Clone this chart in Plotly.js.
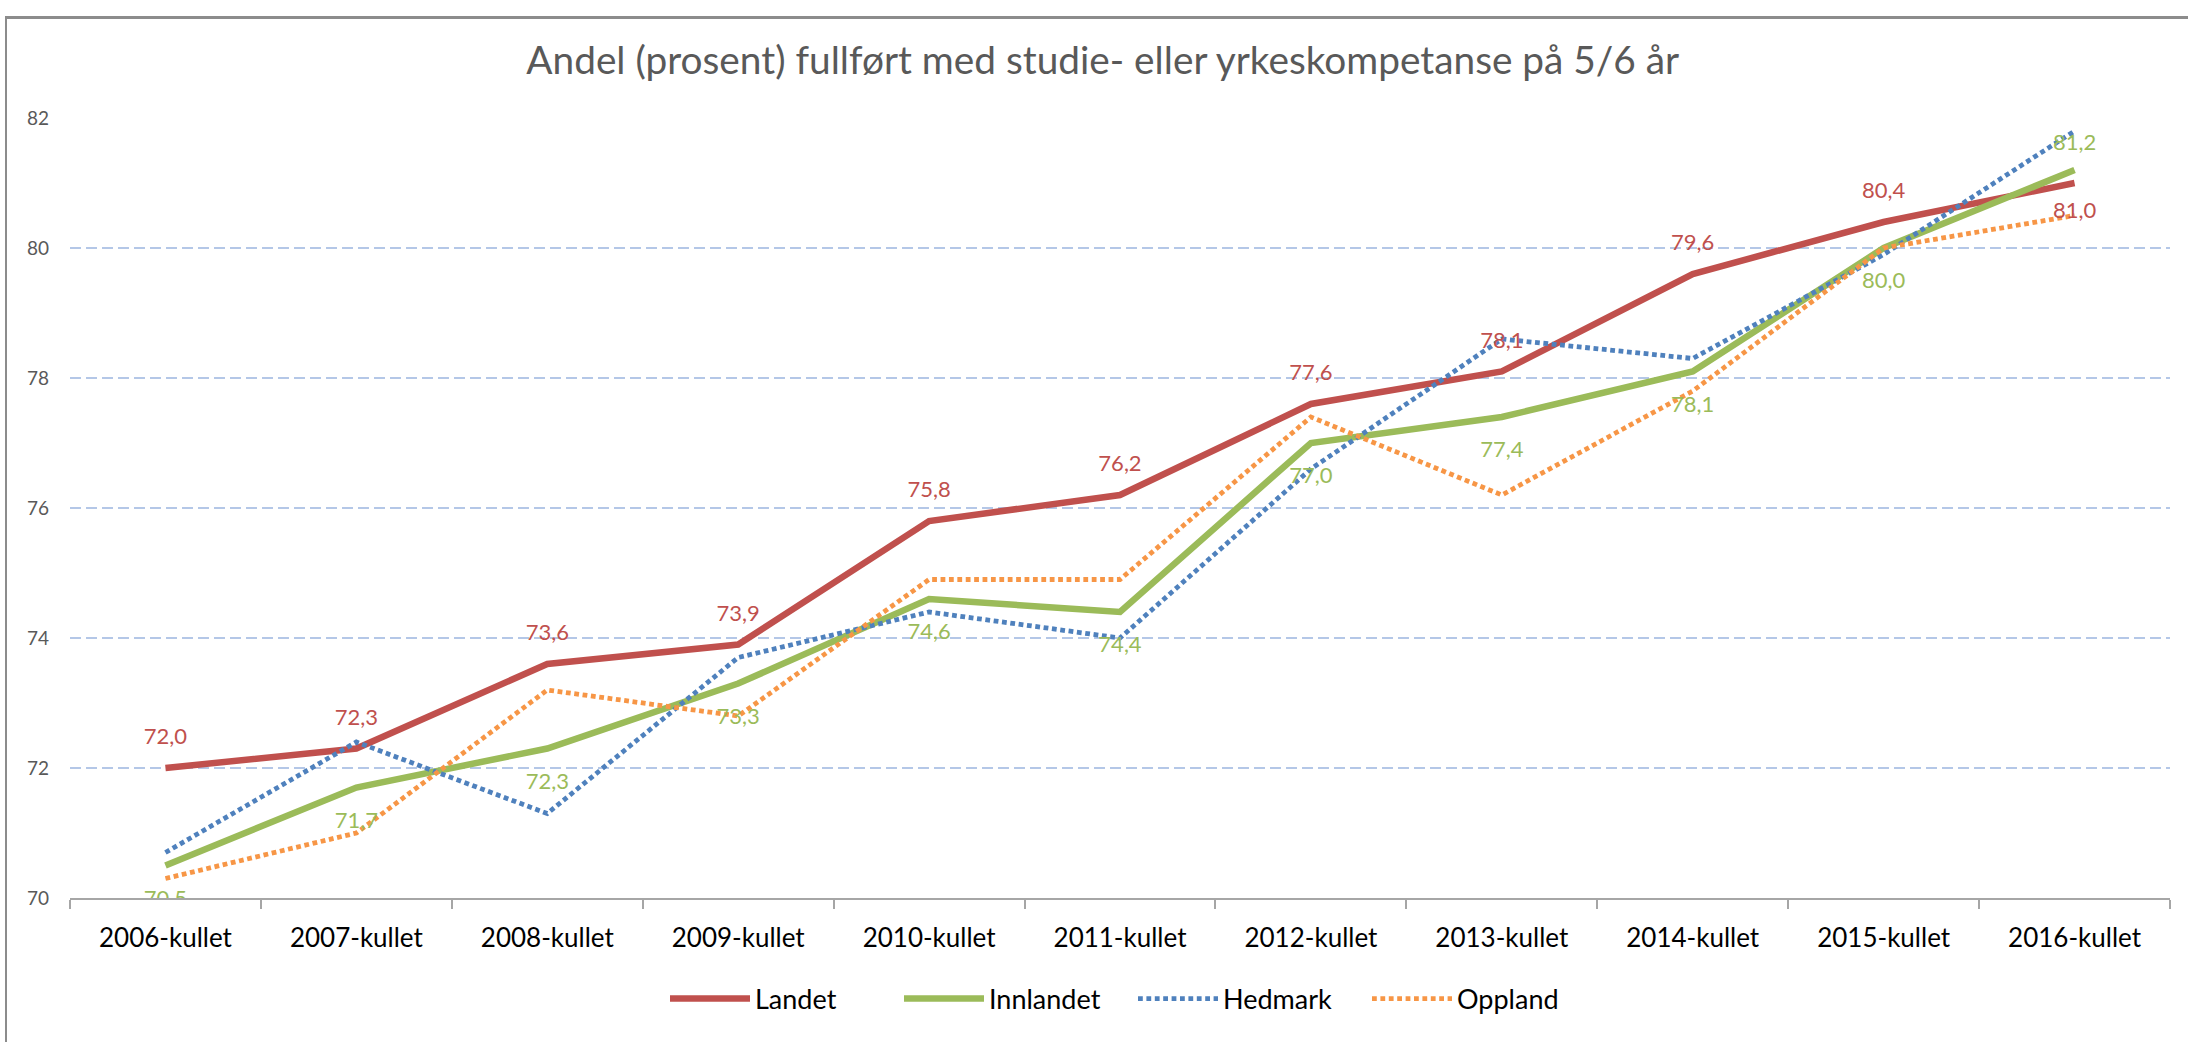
<!DOCTYPE html>
<html>
<head>
<meta charset="utf-8">
<script src="https://cdn.plot.ly/plotly-3.0.1.min.js"></script>
<style>
  html, body { margin: 0; padding: 0; background: #ffffff; }
  #wrap { position: relative; width: 2188px; height: 1042px; overflow: hidden; }
  #chart { position: absolute; left: 0; top: 0; width: 2188px; height: 1042px; }
  #frame { position: absolute; left: 5px; top: 16px; width: 2200px; height: 1100px;
           border-left: 2px solid #8c8c8c; border-top: 3px solid #8c8c8c; pointer-events: none; }
</style>
</head>
<body>
<div id="wrap">
  <div id="chart"></div>
  <div id="frame"></div>
</div>
<script>
const categories = ["2006-kullet", "2007-kullet", "2008-kullet", "2009-kullet", "2010-kullet",
                    "2011-kullet", "2012-kullet", "2013-kullet", "2014-kullet", "2015-kullet", "2016-kullet"];
const landet    = [72.0, 72.3, 73.6, 73.9, 75.8, 76.2, 77.6, 78.1, 79.6, 80.4, 81.0];
const innlandet = [70.5, 71.7, 72.3, 73.3, 74.6, 74.4, 77.0, 77.4, 78.1, 80.0, 81.2];
const hedmark   = [70.7, 72.4, 71.3, 73.7, 74.4, 74.0, 76.6, 78.6, 78.3, 79.9, 81.8];
const oppland   = [70.3, 71.0, 73.2, 72.8, 74.9, 74.9, 77.4, 76.2, 77.8, 80.0, 80.5];
const yTicks    = [70, 72, 74, 76, 78, 80, 82];

// label placement (Excel put the last two labels on the other side of the line)
const landetLabelPos    = landet.map((v, i) => i === landet.length - 1 ? 'bottom center' : 'top center');
const innlandetLabelPos = innlandet.map((v, i) => i === innlandet.length - 1 ? 'top center' : 'bottom center');

const fmt = v => v.toFixed(1).replace('.', ',');
const FONT = 'Lato, "Noto Sans", sans-serif';
const RED = '#C0504D', GREEN = '#9BBB59', BLUE = '#4F81BD', ORANGE = '#F79646';

const traces = [
  {
    name: 'Landet', x: categories, y: landet, type: 'scatter', mode: 'lines',
    line: { color: RED, width: 6.5 }, hoverinfo: 'skip'
  },
  {
    name: 'Innlandet', x: categories, y: innlandet, type: 'scatter', mode: 'lines',
    line: { color: GREEN, width: 6.5 }, hoverinfo: 'skip'
  },
  {
    name: 'Hedmark', x: categories, y: hedmark, type: 'scatter', mode: 'lines',
    line: { color: BLUE, width: 4.8, dash: '4.8px,3.6px' }, hoverinfo: 'skip'
  },
  {
    name: 'Oppland', x: categories, y: oppland, type: 'scatter', mode: 'lines',
    line: { color: ORANGE, width: 4.8, dash: '4.8px,3.6px' }, hoverinfo: 'skip'
  },
  // data labels (invisible markers only give the text its offset from the line)
  {
    name: 'Landet', x: categories, y: landet, type: 'scatter', mode: 'markers+text',
    showlegend: false, hoverinfo: 'skip',
    text: landet.map(fmt), textposition: landetLabelPos,
    textfont: { family: FONT, size: 22, color: RED },
    marker: { size: 28, opacity: 0, color: RED }
  },
  {
    name: 'Innlandet', x: categories, y: innlandet, type: 'scatter', mode: 'markers+text',
    showlegend: false, hoverinfo: 'skip',
    text: innlandet.map(fmt), textposition: innlandetLabelPos,
    textfont: { family: FONT, size: 22, color: GREEN },
    marker: { size: innlandet.map((v, i) => i === innlandet.length - 1 ? 22 : 36), opacity: 0, color: GREEN }
  }
];

const layout = {
  width: 2188, height: 1042,
  paper_bgcolor: '#ffffff', plot_bgcolor: '#ffffff',
  margin: { l: 70, r: 18, t: 118, b: 144 },
  title: {
    text: 'Andel (prosent) fullført med studie- eller yrkeskompetanse på 5/6 år',
    font: { family: FONT, size: 38.8, color: '#595959' },
    xref: 'container', x: 0.504, xanchor: 'center',
    yref: 'container', y: 0.942, yanchor: 'middle'
  },
  xaxis: {
    type: 'category',
    range: [-0.5, categories.length - 0.5],
    showline: true, linecolor: '#A6A6A6', linewidth: 2,
    ticks: 'outside', tickson: 'boundaries', ticklen: 9, tickwidth: 2, tickcolor: '#A6A6A6',
    showgrid: false, zeroline: false,
    tickfont: { family: FONT, size: 26, color: '#000000' },
    ticklabelstandoff: 16,
    fixedrange: true
  },
  yaxis: {
    range: [70, 82],
    tickvals: yTicks,
    ticktext: yTicks.map(String),
    showline: false, zeroline: false, ticks: '',
    showgrid: true, gridcolor: '#B4C7E7', gridwidth: 2, griddash: '11px,5px',
    tickfont: { family: FONT, size: 19, color: '#595959' },
    ticklabelstandoff: 20,
    fixedrange: true
  },
  showlegend: true,
  legend: {
    orientation: 'h',
    x: (665 - 70) / 2100, xanchor: 'left',
    y: -0.1295, yanchor: 'middle',
    font: { family: FONT, size: 27, color: '#000000' },
    itemwidth: 80,
    entrywidth: 139,
    traceorder: 'normal',
    bgcolor: 'rgba(0,0,0,0)'
  },
  hovermode: false
};

Plotly.newPlot('chart', traces, layout, { displayModeBar: false, staticPlot: true });
</script>
</body>
</html>
